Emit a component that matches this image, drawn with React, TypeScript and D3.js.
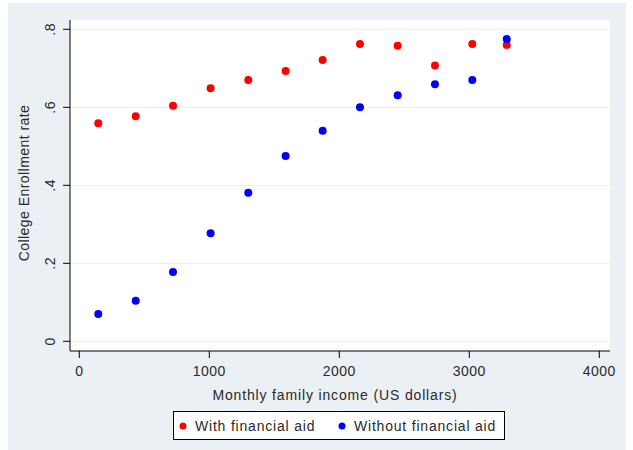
import React from "react";
import * as d3 from "d3";

// Monthly family income (US dollars) for each income group
const income = [146, 434, 721, 1010, 1300, 1587, 1872, 2159, 2449, 2736, 3023, 3288];
// College enrollment rate, with financial aid
const withAid = [0.559, 0.577, 0.604, 0.649, 0.67, 0.693, 0.721, 0.762, 0.758, 0.707, 0.762, 0.76];
// College enrollment rate, without financial aid
const withoutAid = [0.07, 0.104, 0.178, 0.277, 0.381, 0.475, 0.54, 0.6, 0.631, 0.659, 0.67, 0.775];

const xTicks = [0, 1000, 2000, 3000, 4000];
const yTicks = [0, 0.2, 0.4, 0.6, 0.8];
const yTickLabels = ["0", ".2", ".4", ".6", ".8"];

const seriesNames = ["With financial aid", "Without financial aid"];
const seriesColors = ["#ff0000", "#0000ff"];

const W = 633;
const H = 450;
const font = "'Liberation Sans', Arial, sans-serif";
const textColor = "#2a2a2a";

export default function App() {
  const plot = { left: 70, right: 610, top: 20, bottom: 351 };
  const x = d3.scaleLinear().domain([0, 4000]).range([79.3, 599.3]);
  const y = d3.scaleLinear().domain([0, 0.8]).range([341.3, 29.3]);

  const series = [withAid, withoutAid];

  return (
    <svg
      width={W}
      height={H}
      style={{ position: "absolute", left: 0, top: 0 }}
      fontFamily={font}
    >
      <rect x={0} y={0} width={W} height={H} fill="#ffffff" />
      <rect x={8} y={3} width={618} height={H} fill="#eaf0f3" />
      <rect
        x={plot.left}
        y={plot.top}
        width={plot.right - plot.left}
        height={plot.bottom - plot.top}
        fill="#ffffff"
      />

      {/* horizontal grid */}
      {yTicks.map((t) => (
        <line
          key={"g" + t}
          x1={plot.left}
          x2={plot.right}
          y1={y(t)}
          y2={y(t)}
          stroke="#e6eef2"
          strokeWidth={1}
        />
      ))}

      {/* axes */}
      <line x1={plot.left} x2={plot.left} y1={plot.top} y2={plot.bottom} stroke="#000" strokeWidth={1} />
      <line x1={plot.left} x2={plot.right} y1={plot.bottom} y2={plot.bottom} stroke="#000" strokeWidth={1} />

      {/* y ticks and labels */}
      {yTicks.map((t, i) => (
        <g key={"y" + t}>
          <line x1={63} x2={plot.left} y1={y(t)} y2={y(t)} stroke="#000" />
          <text
            transform={`translate(55,${y(t)}) rotate(-90)`}
            textAnchor="middle"
            fontSize={14}
            letterSpacing={0.5}
            fill={textColor}
          >
            {yTickLabels[i]}
          </text>
        </g>
      ))}

      {/* x ticks and labels */}
      {xTicks.map((t) => (
        <g key={"x" + t}>
          <line x1={x(t)} x2={x(t)} y1={plot.bottom} y2={358} stroke="#000" />
          <text x={x(t)} y={376} textAnchor="middle" fontSize={14} letterSpacing={0.5} fill={textColor}>
            {t}
          </text>
        </g>
      ))}

      {/* axis titles */}
      <text
        transform={`translate(29,183) rotate(-90)`}
        textAnchor="middle"
        fontSize={14}
        letterSpacing={0.45}
        fill={textColor}
      >
        College Enrollment rate
      </text>
      <text x={335} y={400} textAnchor="middle" fontSize={14} letterSpacing={0.85} fill={textColor}>
        Monthly family income (US dollars)
      </text>

      {/* points */}
      {series.map((vals, s) =>
        vals.map((v, i) => (
          <circle key={s + "-" + i} cx={x(income[i])} cy={y(v)} r={4} fill={seriesColors[s]} />
        ))
      )}

      {/* legend */}
      <rect x={173.5} y={411.5} width={331} height={28} fill="#ffffff" stroke="#000" strokeWidth={1} />
      {seriesNames.map((name, i) => {
        const lx = i === 0 ? 183 : 342;
        return (
          <g key={name}>
            <circle cx={lx} cy={426} r={3.5} fill={seriesColors[i]} />
            <text x={lx + 12} y={431} fontSize={14} letterSpacing={0.8} fill={textColor}>
              {name}
            </text>
          </g>
        );
      })}
    </svg>
  );
}
